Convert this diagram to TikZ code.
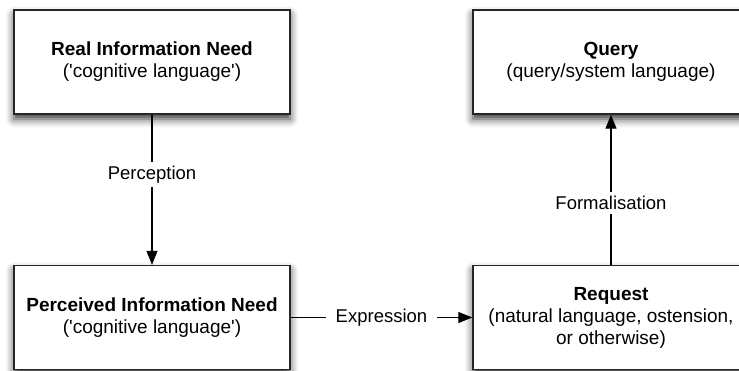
\documentclass[tikz,border=0pt]{standalone}
\usepackage{fontspec}
\setmainfont{Liberation Sans}[Ligatures=TeXOff]
\usetikzlibrary{arrows.meta,shadows.blur}

\tikzset{
  stagebox/.style={draw=black!85, line width=1.4pt, fill=white,
    minimum width=276pt, minimum height=104pt, align=center,
    font=\fontsize{19}{22}\selectfont,
    blur shadow={shadow xshift=0pt, shadow yshift=-5pt,
      shadow blur radius=8pt, shadow opacity=80}},
  flow/.style={line width=1.1pt, -{Triangle[length=14pt,width=11pt]}},
  flowlabel/.style={fill=white, font=\fontsize{18.5}{22}\selectfont,
    inner xsep=10pt, inner ysep=4pt}
}

\begin{document}
\begin{tikzpicture}[x=1pt,y=-1pt]
  \useasboundingbox (0,0) rectangle (739,370);
  \clip (0,0) rectangle (739,370);

  \node[stagebox] (real) at (152,62)
    {\textbf{Real Information Need}\\('cognitive language')};
  \node[stagebox] (query) at (611,62)
    {\textbf{Query}\\(query/system language)};
  \node[stagebox] (perceived) at (152,317.5)
    {\textbf{Perceived Information Need}\\('cognitive language')};
  \node[stagebox] (request) at (611,317.5)
    {\textbf{Request}\\(natural language, ostension,\\or otherwise)};

  \draw[flow] (real) -- node[flowlabel, pos=0.4] {Perception} (perceived);
  \draw[flow] (request) -- node[flowlabel, pos=0.41] {Formalisation} (query);
  \draw[flow] (perceived) -- node[flowlabel] {Expression} (request);
\end{tikzpicture}
\end{document}
